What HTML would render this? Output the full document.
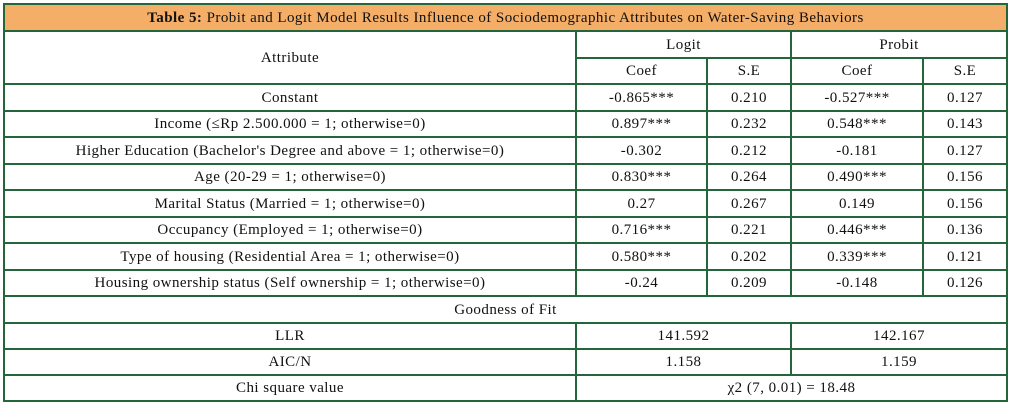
<!DOCTYPE html>
<html><head><meta charset="utf-8"><style>
body{margin:0;background:#fff;width:1011px;height:408px;overflow:hidden}
table{position:absolute;left:3px;top:3px;border-collapse:collapse;table-layout:fixed;font-family:"Liberation Serif",serif;font-size:15px;letter-spacing:0.45px;color:#111}
td{border:2px solid #23663c;text-align:center;padding:0;vertical-align:middle;white-space:nowrap;line-height:16px}
.t{background:#f4ae67;font-weight:bold}
</style></head><body>
<table>
<colgroup><col style="width:572px"><col style="width:131px"><col style="width:84px"><col style="width:132px"><col style="width:84px"></colgroup>
<tr style="height:27px"><td colspan="5" class="t">Table 5: <span style="font-weight:normal">Probit and Logit Model Results Influence of Sociodemographic Attributes on Water-Saving Behaviors</span></td></tr>
<tr style="height:27px"><td rowspan="2">Attribute</td><td colspan="2">Logit</td><td colspan="2">Probit</td></tr>
<tr style="height:26px"><td>Coef</td><td>S.E</td><td>Coef</td><td>S.E</td></tr>
<tr style="height:27px"><td>Constant</td><td>-0.865***</td><td>0.210</td><td>-0.527***</td><td>0.127</td></tr>
<tr style="height:26px"><td>Income (≤Rp 2.500.000 = 1; otherwise=0)</td><td>0.897***</td><td>0.232</td><td>0.548***</td><td>0.143</td></tr>
<tr style="height:27px"><td>Higher Education (Bachelor's Degree and above = 1; otherwise=0)</td><td>-0.302</td><td>0.212</td><td>-0.181</td><td>0.127</td></tr>
<tr style="height:26px"><td>Age (20-29 = 1; otherwise=0)</td><td>0.830***</td><td>0.264</td><td>0.490***</td><td>0.156</td></tr>
<tr style="height:27px"><td>Marital Status (Married = 1; otherwise=0)</td><td>0.27</td><td>0.267</td><td>0.149</td><td>0.156</td></tr>
<tr style="height:26px"><td>Occupancy (Employed = 1; otherwise=0)</td><td>0.716***</td><td>0.221</td><td>0.446***</td><td>0.136</td></tr>
<tr style="height:27px"><td>Type of housing (Residential Area = 1; otherwise=0)</td><td>0.580***</td><td>0.202</td><td>0.339***</td><td>0.121</td></tr>
<tr style="height:26px"><td>Housing ownership status (Self ownership = 1; otherwise=0)</td><td>-0.24</td><td>0.209</td><td>-0.148</td><td>0.126</td></tr>
<tr style="height:27px"><td colspan="5">Goodness of Fit</td></tr>
<tr style="height:26px"><td>LLR</td><td colspan="2">141.592</td><td colspan="2">142.167</td></tr>
<tr style="height:26px"><td>AIC/N</td><td colspan="2">1.158</td><td colspan="2">1.159</td></tr>
<tr style="height:26px"><td>Chi square value</td><td colspan="4">χ2 (7, 0.01) = 18.48</td></tr>
</table>
</body></html>
